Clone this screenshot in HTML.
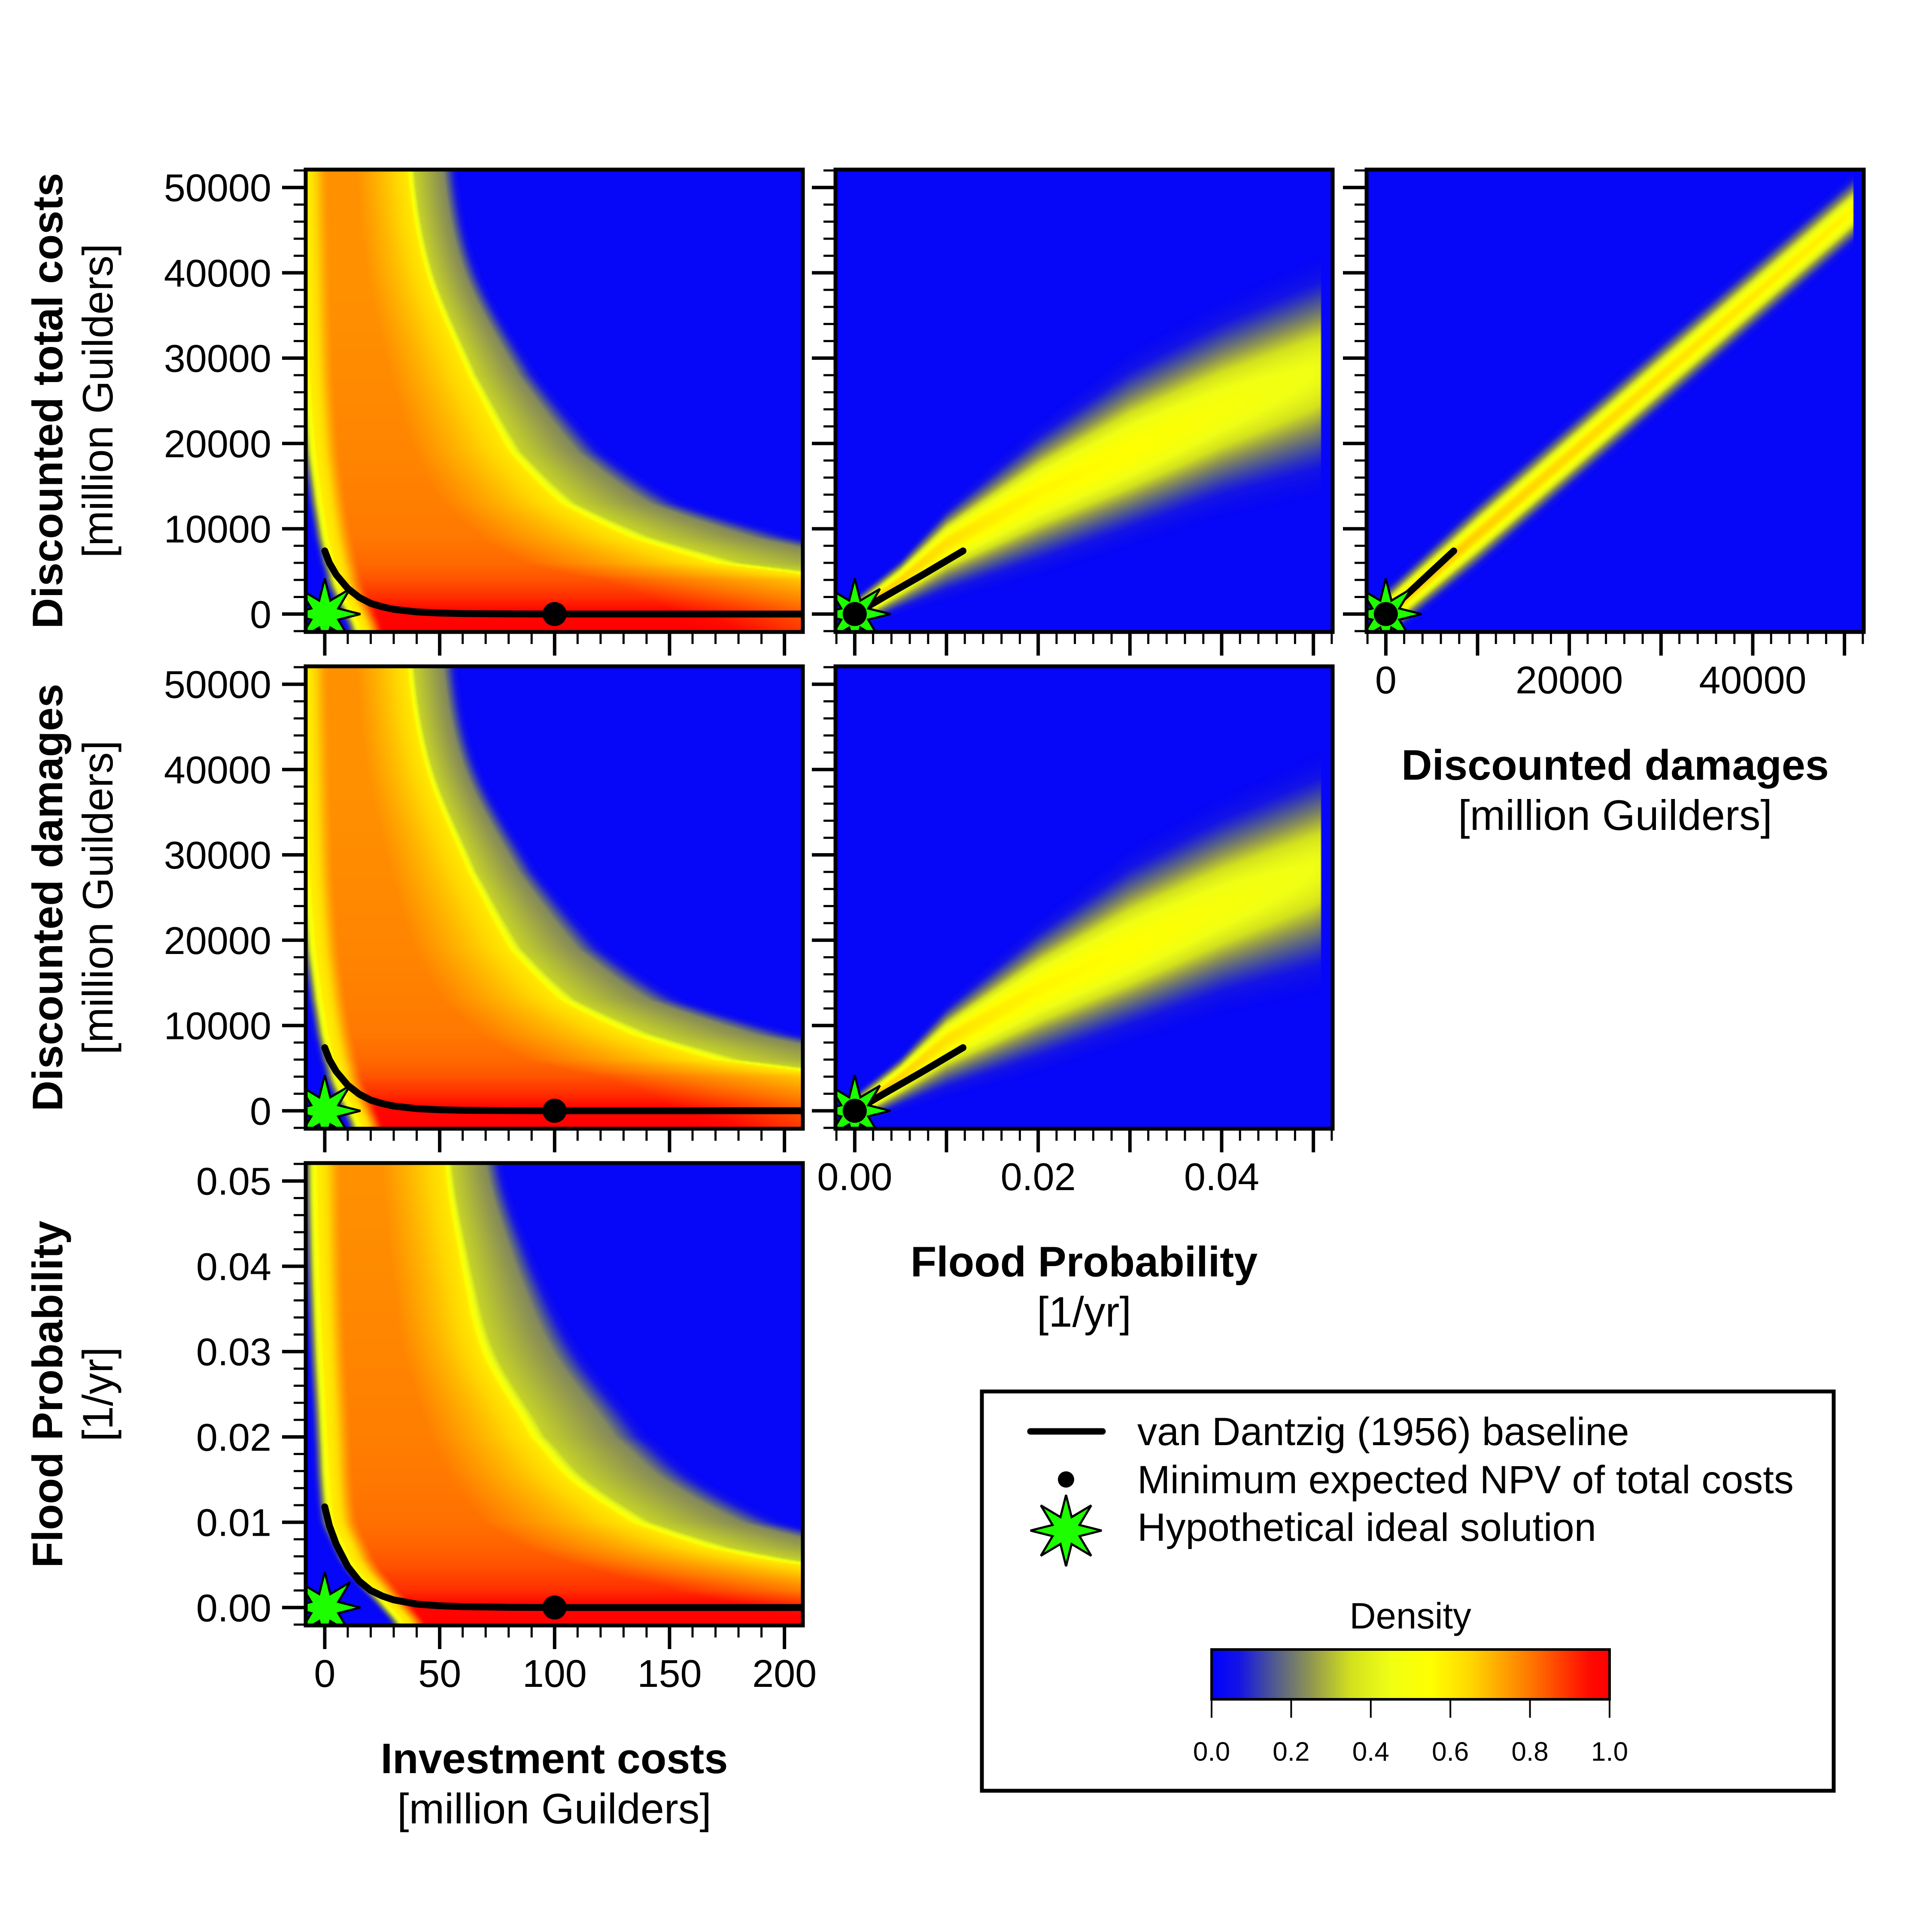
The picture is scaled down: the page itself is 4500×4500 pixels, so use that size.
<!DOCTYPE html>
<html>
<head>
<meta charset="utf-8">
<title>Flood protection pairs plot</title>
<style>
html,body{margin:0;padding:0;background:#ffffff;}
#root{position:relative;width:4500px;height:4500px;overflow:hidden;background:#ffffff;font-family:"Liberation Sans",Arial,sans-serif;}
#root canvas{position:absolute;}
#plot{position:absolute;left:0;top:0;}
</style>
</head>
<body>
<div id="root">
<svg id="plot" width="4500" height="4500" viewBox="0 0 4500 4500" xmlns="http://www.w3.org/2000/svg"></svg>
</div>
<script>
// ---------------- data ----------------
const investDomain=[-8.3,208];
const costDomain=[-2100,52100];
const probDomain=[-0.0021,0.0521];

const baselineInvest=[0,2,5,10,15,20,25,30,40,50,60,80,100,150,208];
const baselineCost=[7400,6000,4600,3000,1950,1250,850,550,250,120,60,20,0,0,0];
const baselineDamage=[7400,6000,4600,3000,1950,1250,850,550,250,120,60,20,0,0,0];
const baselineProb=[0.0118,0.0096,0.0074,0.0048,0.0031,0.002,0.00135,0.0009,0.0004,0.0002,0.0001,0.00003,0,0,0];

const optimumInvest=[100];
const optimumCost=[0];
const optimumDamage=[0];
const optimumProb=[0];

const idealInvest=[0];
const idealCost=[0];
const idealDamage=[0];
const idealProb=[0];

// density shape: investment vs cost/damages
const costLevels=[-2000,0,2000,4000,4600,6000,9000,13000,19000,28000,40000,52000];
const costLowerRidge=[17,14,10,7,6.5,5,2.5,0,-3,-5.5,-7,-8];
const costUpperRidge=[300,290,270,235,208,168,132,102,80,62,44,36];
const costBlueEdge=[400,390,370,330,305,275,215,162,126,96,70,60];
const costInterior=[1,0.97,0.9,0.85,0.84,0.82,0.8,0.79,0.78,0.77,0.76,0.76];

// investment vs flood probability
const probLevels=[-0.0021,0,0.002,0.005,0.007,0.01,0.015,0.02,0.03,0.04,0.052];
const probLowerRidge=[36,30,23,14,10,5,3,2,0,-1.5,-2.5];
const probUpperRidge=[400,340,280,207,166,133,106,89,68,59,52];
const probBlueEdge=[500,440,380,310,258,207,170,146,116,96,80];
const probInterior=[1,0.97,0.9,0.85,0.83,0.81,0.8,0.79,0.78,0.77,0.76];

// flood probability vs cost wedge
const wedgeProb=[-0.001,0,0.005,0.01,0.02,0.03,0.04,0.05,0.0508];
const wedgeCenter=[-600,0,4000,8400,14300,19100,23900,28300,28700];
const wedgeUpper=[1000,2000,6400,12300,21500,29500,35500,40400,40800];
const wedgeLower=[-2000,-1500,500,2400,5600,9200,12700,15100,15300];
const wedgePeak=[0.5,0.68,0.65,0.62,0.57,0.55,0.5,0.45,0.44];

// damages vs cost diagonal band
const diagDamage=[-1000,0,10000,30000,49500,51000];
const diagCenter=[-900,0,9300,27900,46000,47400];
const diagHalf=[2500,3000,3800,4000,4000,4000];
const diagPeak=[0.7,0.7,0.66,0.62,0.58,0.56];

// tick labels
const investTickLabels=[0,50,100,150,200];
const costTickLabels=[0,10000,20000,30000,40000,50000];
const damageTickLabels=[0,20000,40000];
const probYTickLabels=["0.00","0.01","0.02","0.03","0.04","0.05"];
const probXTickLabels=["0.00","0.02","0.04"];
const colorbarLabels=["0.0","0.2","0.4","0.6","0.8","1.0"];

// ---------------- layout ----------------
const colLeft=[712,1946,3183];
const rowTop=[395,1552,2709];
const PW=1158, PH=1077;

const svg=document.getElementById('plot');
const root=document.getElementById('root');
const NS='http://www.w3.org/2000/svg';
function mk(tag,attrs,parent){const e=document.createElementNS(NS,tag);for(const k in attrs)e.setAttribute(k,attrs[k]);(parent||svg).appendChild(e);return e;}
function interp(xs,ys,v){if(v<=xs[0])return ys[0];const n=xs.length;if(v>=xs[n-1])return ys[n-1];for(let i=1;i<n;i++){if(v<=xs[i]){const t=(v-xs[i-1])/(xs[i]-xs[i-1]);return ys[i-1]+t*(ys[i]-ys[i-1]);}}return ys[n-1];}
// smooth (Catmull-Rom) interpolation
function interpS(xs,ys,v){const n=xs.length;if(v<=xs[0])return ys[0];if(v>=xs[n-1])return ys[n-1];
  let i=1;while(v>xs[i])i++;const t=(v-xs[i-1])/(xs[i]-xs[i-1]);
  const p0=ys[Math.max(0,i-2)],p1=ys[i-1],p2=ys[i],p3=ys[Math.min(n-1,i+1)];
  const t2=t*t,t3=t2*t;
  return 0.5*((2*p1)+(-p0+p2)*t+(2*p0-5*p1+4*p2-p3)*t2+(-p0+3*p1-3*p2+p3)*t3);}
function scale(domain,a,b){return v=>a+(v-domain[0])/(domain[1]-domain[0])*(b-a);}
function inv(domain,a,b){return p=>domain[0]+(p-a)/(b-a)*(domain[1]-domain[0]);}

// colour map
const cmStops=[0,0.07,0.15,0.25,0.35,0.45,0.55,0.65,0.8,0.95,1];
const cmR=[0,20,75,145,210,240,255,255,255,255,255];
const cmG=[0,20,85,150,225,255,255,215,120,10,0];
const cmB=[255,230,150,80,30,20,0,0,0,0,0];
function color(d){return [interp(cmStops,cmR,d),interp(cmStops,cmG,d),interp(cmStops,cmB,d)];}
function sstep(t){t=Math.max(0,Math.min(1,t));return t*t*(3-2*t);}

function densA(x,y,S){
  const a=interpS(S.levels,S.lower,y),b=interpS(S.levels,S.upper,y),c=interpS(S.levels,S.blue,y),I=interp(S.levels,S.interior,y);
  if(x<a){const t=(a-x)/6;return Math.max(0.02,0.6*Math.exp(-1.6*t*t));}
  if(x<=b){const r1=(x-a)/10,r2=(b-x)/Math.max(14,0.5*(b-a));
    return 0.6+(I-0.6)*Math.min(sstep(r1),Math.pow(Math.max(0,Math.min(1,r2)),0.8));}
  if(x<c){const t=(x-b)/(c-b);
    if(t<0.12)return 0.6-0.27*(t/0.12);
    if(t<0.65)return 0.33-0.1*((t-0.12)/0.53);
    return Math.max(0.02,0.23*Math.pow(1-(t-0.65)/0.35,1.5));}
  return 0.02;
}
function densB(x,y){
  if(x<wedgeProb[0]||x>wedgeProb[wedgeProb.length-1])return 0.02;
  const c=interp(wedgeProb,wedgeCenter,x),u=interp(wedgeProb,wedgeUpper,x),l=interp(wedgeProb,wedgeLower,x),p=interp(wedgeProb,wedgePeak,x);
  const t=y>=c?(y-c)/Math.max(1,u-c):(c-y)/Math.max(1,c-l);
  return Math.max(0.02,p*Math.exp(-2.5*t*t));
}
function densC(x,y){
  if(x<diagDamage[0]||x>diagDamage[diagDamage.length-1])return 0.02;
  const c=interp(diagDamage,diagCenter,x),h=interp(diagDamage,diagHalf,x),p=interp(diagDamage,diagPeak,x);
  const t=Math.abs(y-c)/h;
  return Math.max(0.02,p*Math.exp(-2.5*t*t));
}
const costShape={levels:costLevels,lower:costLowerRidge,upper:costUpperRidge,blue:costBlueEdge,interior:costInterior};
const probShape={levels:probLevels,lower:probLowerRidge,upper:probUpperRidge,blue:probBlueEdge,interior:probInterior};

const panels=[
 {name:'cost-vs-investment',col:0,row:0,xd:investDomain,yd:costDomain,dens:(x,y)=>densA(x,y,costShape),lx:baselineInvest,ly:baselineCost,ox:optimumInvest,oy:optimumCost,ix:idealInvest,iy:idealCost},
 {name:'cost-vs-probability',col:1,row:0,xd:probDomain,yd:costDomain,dens:densB,lx:baselineProb,ly:baselineCost,ox:optimumProb,oy:optimumCost,ix:idealProb,iy:idealCost},
 {name:'cost-vs-damages',col:2,row:0,xd:costDomain,yd:costDomain,dens:densC,lx:baselineDamage,ly:baselineCost,ox:optimumDamage,oy:optimumCost,ix:idealDamage,iy:idealCost},
 {name:'damages-vs-investment',col:0,row:1,xd:investDomain,yd:costDomain,dens:(x,y)=>densA(x,y,costShape),lx:baselineInvest,ly:baselineDamage,ox:optimumInvest,oy:optimumDamage,ix:idealInvest,iy:idealDamage},
 {name:'damages-vs-probability',col:1,row:1,xd:probDomain,yd:costDomain,dens:densB,lx:baselineProb,ly:baselineDamage,ox:optimumProb,oy:optimumDamage,ix:idealProb,iy:idealDamage},
 {name:'probability-vs-investment',col:0,row:2,xd:investDomain,yd:probDomain,dens:(x,y)=>densA(x,y,probShape),lx:baselineInvest,ly:baselineProb,ox:optimumInvest,oy:optimumProb,ix:idealInvest,iy:idealProb}
];

function starPts(cx,cy,R,r){const p=[];for(let i=0;i<16;i++){const a=-Math.PI/2+i*Math.PI/8;const rr=i%2?r:R;p.push((cx+rr*Math.cos(a)).toFixed(1)+','+(cy+rr*Math.sin(a)).toFixed(1));}return p.join(' ');}

function tickVals(lo,hi,step){const out=[];const s=Math.ceil(lo/step-1e-9);for(let k=s;k*step<=hi+1e-12;k++)out.push(k*step);return out;}

const defs=mk('defs',{});
panels.forEach((P,idx)=>{
  const L=colLeft[P.col],T=rowTop[P.row];
  const sx=scale(P.xd,L,L+PW), sy=scale(P.yd,T+PH,T);
  const cw=386,ch=359;
  const cv=document.createElement('canvas');
  cv.width=cw;cv.height=ch;
  cv.style.left=L+'px';cv.style.top=T+'px';cv.style.width=PW+'px';cv.style.height=PH+'px';
  
  
  root.insertBefore(cv,svg);
  const ctx=cv.getContext('2d');const img=ctx.createImageData(cw,ch);
  const ix=inv(P.xd,0,cw), iy=inv(P.yd,ch,0);
  for(let j=0;j<ch;j++){const yv=iy(j+0.5);for(let i=0;i<cw;i++){const xv=ix(i+0.5);const c=color(P.dens(xv,yv));const o=(j*cw+i)*4;img.data[o]=c[0];img.data[o+1]=c[1];img.data[o+2]=c[2];img.data[o+3]=255;}}
  ctx.putImageData(img,0,0);

  const g=mk('g',{});
  
  
  const cp=mk('clipPath',{id:'clip'+idx},defs);
  mk('rect',{x:L,y:T,width:PW,height:PH},cp);
  const inner=mk('g',{'clip-path':'url(#clip'+idx+')'},g);
  const d=P.lx.map((v,i)=>(i?'L':'M')+sx(v).toFixed(1)+','+sy(P.ly[i]).toFixed(1)).join(' ');
  const line=mk('path',{d:d,fill:'none',stroke:'#000',"stroke-width":16,"stroke-linecap":"round","stroke-linejoin":"round"},inner);
  
  
  P.ix.forEach((v,i)=>{
    const st=mk('polygon',{points:starPts(sx(v),sy(P.iy[i]),83,34),fill:'#1dff00',stroke:'#000',"stroke-width":5,"stroke-linejoin":"miter"},inner);
    
    
  });
  P.ox.forEach((v,i)=>{
    const dt=mk('circle',{cx:sx(v),cy:sy(P.oy[i]),r:28,fill:'#000'},inner);
    
    
  });
  const fr=mk('rect',{x:L,y:T,width:PW,height:PH,fill:'none',stroke:'#000',"stroke-width":9},g);
  
  

  const isInv=P.xd===investDomain, isProbX=P.xd===probDomain;
  const xMajor=isInv?50:(isProbX?0.01:10000), xMinor=isInv?10:(isProbX?0.002:2000);
  const isProbY=P.yd===probDomain;
  const yMajor=isProbY?0.01:10000, yMinor=isProbY?0.002:2000;
  const tg=mk('g',{stroke:'#000'},g);
  
  
  tickVals(P.xd[0],P.xd[1],xMinor).forEach(v=>{const maj=Math.abs(v/xMajor-Math.round(v/xMajor))<1e-6;const x=sx(v);mk('line',{x1:x,x2:x,y1:T+PH,y2:T+PH+(maj?55:28),"stroke-width":maj?8:5},tg);});
  tickVals(P.yd[0],P.yd[1],yMinor).forEach(v=>{const maj=Math.abs(v/yMajor-Math.round(v/yMajor))<1e-6;const y=sy(v);mk('line',{y1:y,y2:y,x1:L,x2:L-(maj?55:28),"stroke-width":maj?8:5},tg);});

  if(P.col===0){
    const labs=isProbY?probYTickLabels:costTickLabels;
    labs.forEach(l=>{const t=mk('text',{x:L-80,y:sy(parseFloat(l))+32,"text-anchor":"end","font-size":90,fill:'#000'},g);t.textContent=l;
      
      });
    const cyy=T+PH/2;
    const titles=P.row===0?['Discounted total costs','[million Guilders]']:(P.row===1?['Discounted damages','[million Guilders]']:['Flood Probability','[1/yr]']);
    const t1=mk('text',{x:0,y:0,transform:'translate(145,'+cyy+') rotate(-90)',"text-anchor":"middle","font-size":99,"font-weight":"bold",fill:'#000'},g);t1.textContent=titles[0];
    
    
    const t2=mk('text',{x:0,y:0,transform:'translate(262,'+cyy+') rotate(-90)',"text-anchor":"middle","font-size":99,fill:'#000'},g);t2.textContent=titles[1];
    
    
  }
  const bottomMost=(P.col===0&&P.row===2)||(P.col===1&&P.row===1)||(P.col===2&&P.row===0);
  if(bottomMost){
    const labs=isInv?investTickLabels.map(String):(isProbX?probXTickLabels:damageTickLabels.map(String));
    labs.forEach(l=>{const t=mk('text',{x:sx(parseFloat(l)),y:T+PH+143,"text-anchor":"middle","font-size":90,fill:'#000'},g);t.textContent=l;
      
      });
    const titles=isInv?['Investment costs','[million Guilders]']:(isProbX?['Flood Probability','[1/yr]']:['Discounted damages','[million Guilders]']);
    const cx=L+PW/2;
    const t1=mk('text',{x:cx,y:T+PH+344,"text-anchor":"middle","font-size":99,"font-weight":"bold",fill:'#000'},g);t1.textContent=titles[0];
    
    
    const t2=mk('text',{x:cx,y:T+PH+461,"text-anchor":"middle","font-size":99,fill:'#000'},g);t2.textContent=titles[1];
    
    
  }
});

// ---------------- legend ----------------
const lg=mk('g',{});


const lbox=mk('rect',{x:2287,y:3241,width:1984,height:930,fill:'#fff',stroke:'#000',"stroke-width":9},lg);


const l1=mk('line',{x1:2400,x2:2568,y1:3334,y2:3334,stroke:'#000',"stroke-width":15,"stroke-linecap":"round"},lg);


const l2=mk('circle',{cx:2483,cy:3446,r:19,fill:'#000'},lg);


const l3=mk('polygon',{points:starPts(2483,3565,83,34),fill:'#1dff00',stroke:'#000',"stroke-width":5},lg);


const legendTexts=['van Dantzig (1956) baseline','Minimum expected NPV of total costs','Hypothetical ideal solution'];
const legendNames=['legend-entry-baseline','legend-entry-optimum','legend-entry-ideal'];
const legendY=[3366,3478,3589];
legendTexts.forEach((s,i)=>{const t=mk('text',{x:2649,y:legendY[i],"font-size":92,fill:'#000'},lg);t.textContent=s;
  
  });
const dt=mk('text',{x:3285,y:3793,"text-anchor":"middle","font-size":85,fill:'#000'},lg);dt.textContent='Density';


const grad=mk('linearGradient',{id:'cbgrad',x1:0,x2:1,y1:0,y2:0},defs);
cmStops.forEach((s,i)=>{mk('stop',{offset:s,"stop-color":'rgb('+Math.round(cmR[i])+','+Math.round(cmG[i])+','+Math.round(cmB[i])+')'},grad);});
const cb=mk('rect',{x:2822,y:3842,width:927,height:116,fill:'url(#cbgrad)',stroke:'#000',"stroke-width":6},lg);


const cbx=scale([0,1],2822,3749);
colorbarLabels.forEach(l=>{const x=cbx(parseFloat(l));
  mk('line',{x1:x,x2:x,y1:3958,y2:4001,stroke:'#000',"stroke-width":4},lg);
  const t=mk('text',{x:x,y:4101,"text-anchor":"middle","font-size":62,fill:'#000'},lg);t.textContent=l;
  
  });
</script>
</body>
</html>
